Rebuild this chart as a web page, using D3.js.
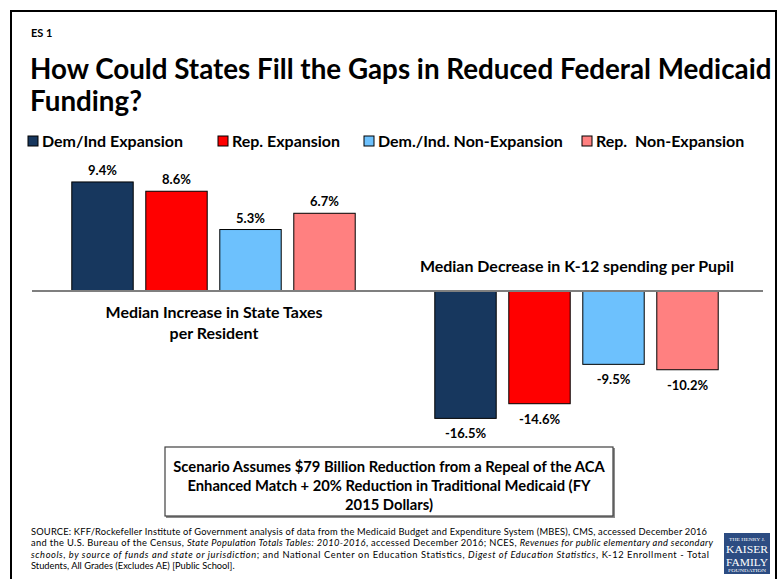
<!DOCTYPE html>
<html>
<head>
<meta charset="utf-8">
<script src="https://cdn.jsdelivr.net/npm/d3@7"></script>
<style>
  body { margin: 0; background: #fff; }
  svg { display: block; }
  text { font-family: Lato, "Open Sans", sans-serif; }
</style>
</head>
<body>
<svg id="chart" width="781" height="579"></svg>
<script>
// ---- data ----
const groups = ["Dem/Ind Expansion", "Rep. Expansion", "Dem./Ind. Non-Expansion", "Rep.  Non-Expansion"];
const groupColors = ["#17375E", "#FF0000", "#6DC1FD", "#FF8080"];
const taxIncrease = [9.4, 8.6, 5.3, 6.7];        // median increase in state taxes per resident (%)
const k12Decrease = [-16.5, -14.6, -9.5, -10.2]; // median decrease in K-12 spending per pupil (%)
const panelTitles = [["Median Increase in State Taxes", "per Resident"], ["Median Decrease in K-12 spending per Pupil"]];
const titleLines = ["How Could States Fill the Gaps in Reduced Federal Medicaid", "Funding?"];
const scenarioLines = [
  "Scenario Assumes $79 Billion Reduction from a Repeal of the ACA",
  "Enhanced Match + 20% Reduction in Traditional Medicaid (FY",
  "2015 Dollars)"
];
// percent labels with a plain hyphen for negatives
const fmtPct = v => (v < 0 ? "-" : "") + d3.format(".1f")(Math.abs(v)) + "%";

const svg = d3.select("#chart");

// scale a text element's font so its rendered width equals a target
function fitWidth(sel, target) {
  const fs = parseFloat(sel.attr("font-size"));
  const w = sel.node().getComputedTextLength();
  const nf = fs * target / w;
  sel.attr("font-size", nf);
  return nf;
}

// outer frame
svg.append("rect").attr("x", 11).attr("y", 11).attr("width", 765).attr("height", 600)
  .attr("fill", "none").attr("stroke", "#000").attr("stroke-width", 2);

// slide label + title
svg.append("text").attr("x", 31).attr("y", 37).attr("font-size", 11).attr("font-weight", 700).text("ES 1");
const t1 = svg.append("text").attr("x", 30).attr("y", 79).attr("font-size", 26).attr("font-weight", 700).text(titleLines[0]);
const titleSize = fitWidth(t1, 742);
svg.append("text").attr("x", 30).attr("y", 111).attr("font-size", titleSize).attr("font-weight", 700).text(titleLines[1]);

// legend
const legendX = [28, 218, 364, 582];
const legend = svg.append("g");
const probe = legend.append("text").attr("font-size", 15).attr("font-weight", 700).text(groups[2]);
const legendSize = fitWidth(probe, 185);
probe.remove();
groups.forEach((g, i) => {
  legend.append("rect").attr("x", legendX[i]).attr("y", 136).attr("width", 10).attr("height", 10)
    .attr("fill", groupColors[i]).attr("stroke", "#000").attr("stroke-width", 1);
  legend.append("text").attr("x", legendX[i] + 14).attr("y", 146.5)
    .attr("font-size", legendSize).attr("font-weight", 700).style("white-space", "pre").text(g);
});

// ---- scales ----
const baseY = 291;
const xTax = d3.scaleBand().domain(groups).range([65.5, 361.5]).paddingInner(0.17).paddingOuter(0.085);
const xK12 = d3.scaleBand().domain(groups).range([428.5, 724.5]).paddingInner(0.17).paddingOuter(0.085);
const yTax = d3.scaleLinear().domain([0, 10]).range([baseY, baseY - 116]);
const yK12 = d3.scaleLinear().domain([0, -20]).range([baseY, baseY + 154.4]);

// bars: state taxes (up)
svg.append("g").selectAll("rect").data(taxIncrease).join("rect")
  .attr("x", (d, i) => xTax(groups[i]))
  .attr("width", xTax.bandwidth())
  .attr("y", d => yTax(d))
  .attr("height", d => yTax(0) - yTax(d))
  .attr("fill", (d, i) => groupColors[i])
  .attr("stroke", "#000").attr("stroke-width", 1);

svg.append("g").selectAll("text").data(taxIncrease).join("text")
  .attr("x", (d, i) => xTax(groups[i]) + xTax.bandwidth() / 2)
  .attr("y", d => yTax(d) - 7)
  .attr("text-anchor", "middle").attr("font-size", 13).attr("font-weight", 700)
  .text(fmtPct);

// bars: K-12 spending (down)
svg.append("g").selectAll("rect").data(k12Decrease).join("rect")
  .attr("x", (d, i) => xK12(groups[i]))
  .attr("width", xK12.bandwidth())
  .attr("y", yK12(0))
  .attr("height", d => yK12(d) - yK12(0))
  .attr("fill", (d, i) => groupColors[i])
  .attr("stroke", "#000").attr("stroke-width", 1);

svg.append("g").selectAll("text").data(k12Decrease).join("text")
  .attr("x", (d, i) => xK12(groups[i]) + xK12.bandwidth() / 2)
  .attr("y", d => yK12(d) + 20)
  .attr("text-anchor", "middle").attr("font-size", 13).attr("font-weight", 700)
  .text(fmtPct);

// zero line
svg.append("line").attr("x1", 32).attr("x2", 763).attr("y1", baseY).attr("y2", baseY)
  .attr("stroke", "#7F7F7F").attr("stroke-width", 2);

// panel captions
const cap1 = svg.append("text").attr("x", 214).attr("y", 318).attr("text-anchor", "middle")
  .attr("font-size", 15).attr("font-weight", 700).text(panelTitles[0][0]);
const capSize = fitWidth(cap1, 217);
svg.append("text").attr("x", 214).attr("y", 339).attr("text-anchor", "middle")
  .attr("font-size", capSize).attr("font-weight", 700).text(panelTitles[0][1]);
svg.append("text").attr("x", 577).attr("y", 272).attr("text-anchor", "middle")
  .attr("font-size", capSize).attr("font-weight", 700).text(panelTitles[1][0]);

// scenario note box
svg.append("rect").attr("x", 166).attr("y", 448).attr("width", 449).attr("height", 70).attr("fill", "#8c8c8c");
svg.append("rect").attr("x", 165).attr("y", 447).attr("width", 448).attr("height", 69)
  .attr("fill", "#fff").attr("stroke", "#404040").attr("stroke-width", 1.2);
const s1 = svg.append("text").attr("x", 389).attr("y", 472).attr("text-anchor", "middle")
  .attr("font-size", 15).attr("font-weight", 700).text(scenarioLines[0]);
const scSize = fitWidth(s1, 432);
scenarioLines.slice(1).forEach((l, i) => {
  svg.append("text").attr("x", 389).attr("y", 491 + i * 19).attr("text-anchor", "middle")
    .attr("font-size", scSize).attr("font-weight", 700).text(l);
});

// source note
const src = svg.append("g").attr("fill", "#000");
const srcLines = [
  [["SOURCE: KFF/Rockefeller Institute of Government analysis of data from the Medicaid Budget and Expenditure System (MBES), CMS, accessed December 2016", false]],
  [["and the U.S. Bureau of the Census, ", false], ["State Population Totals Tables: 2010-2016", true], [", accessed December 2016; NCES, ", false], ["Revenues for public elementary and secondary", true]],
  [["schools, by source of funds and state or jurisdiction", true], ["; and National Center on Education Statistics, ", false], ["Digest of Education Statistics", true], [", K-12 Enrollment - Total", false]],
  [["Students, All Grades (Excludes AE) [Public School].", false]]
];
const srcWidths = [676, 682, 678, null];
srcLines.forEach((parts, i) => {
  const t = src.append("text").attr("x", 31).attr("y", 535 + i * 11.4).attr("font-size", 9.3);
  parts.forEach(([s, it]) => t.append("tspan").attr("font-style", it ? "italic" : "normal").text(s));
  if (srcWidths[i]) t.attr("textLength", srcWidths[i]).attr("lengthAdjust", "spacing");
});

// foundation logo
const logo = svg.append("g").attr("transform", "translate(724,533)");
logo.append("rect").attr("width", 46).attr("height", 41).attr("fill", "#2C4C82");
const logoLines = [["THE HENRY J.", 5, 7.5, 36], ["KAISER", 11, 20, 42], ["FAMILY", 11, 33, 42], ["FOUNDATION", 4.4, 39.3, 38]];
logoLines.forEach(([s, fs, y, w]) => {
  logo.append("text").attr("x", 23).attr("y", y).attr("text-anchor", "middle").attr("fill", "#fff")
    .attr("font-size", fs).attr("textLength", w).attr("lengthAdjust", "spacingAndGlyphs")
    .style("font-family", "'Liberation Serif', serif").text(s);
});
</script>
</body>
</html>
